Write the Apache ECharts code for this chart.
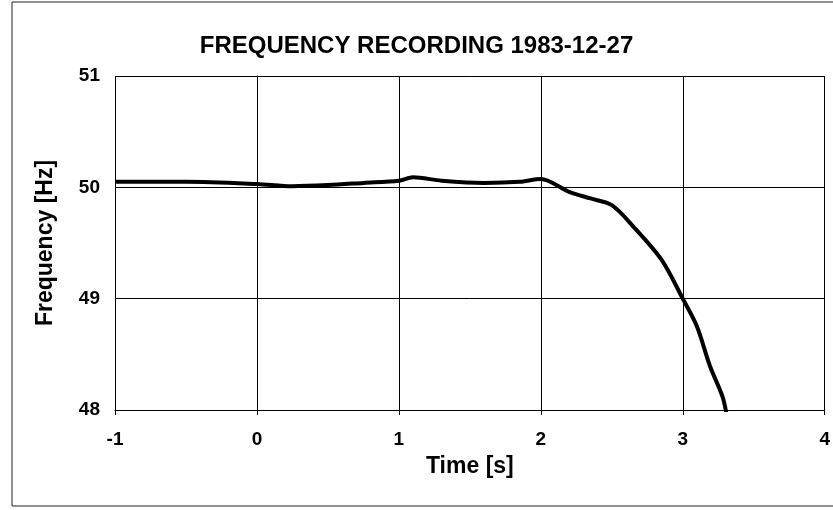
<!DOCTYPE html>
<html>
<head>
<meta charset="utf-8">
<script src="https://cdn.jsdelivr.net/npm/echarts@6/dist/echarts.min.js"></script>
<style>
  html, body { margin: 0; padding: 0; background: #fff; }
  #main { width: 833px; height: 510px; }
</style>
</head>
<body>
<div id="main"></div>
<script>
// recording
var times = [-1, -0.5, 0, 0.25, 0.5, 0.75, 1.0, 1.1, 1.3, 1.6, 1.85, 2.0, 2.2, 2.35, 2.5, 2.65, 2.85, 3.0, 3.1, 3.19, 3.28, 3.31];
var freqs = [50.05, 50.05, 50.03, 50.01, 50.02, 50.04, 50.06, 50.09, 50.06, 50.04, 50.05, 50.075, 49.96, 49.9, 49.84, 49.65, 49.35, 49.0, 48.75, 48.4, 48.12, 47.95];

var xTicks = [-1, 0, 1, 2, 3, 4];
var yTicks = [48, 49, 50, 51];

var font = '"Liberation Sans", Arial, sans-serif';

var pts = [];
for (var i = 0; i < times.length; i++) pts.push([times[i], freqs[i]]);

var myChart = echarts.init(document.getElementById('main'));
var option = {
    backgroundColor: '#fff',
    animation: false,
    title: {
        text: 'FREQUENCY RECORDING 1983-12-27',
        left: 'center',
        top: 29,
        textStyle: { fontFamily: font, fontSize: 24, fontWeight: 'bold', color: '#000' }
    },
    graphic: [{
        type: 'rect',
        shape: { x: 12, y: 2, width: 900, height: 504 },
        style: { fill: 'none', stroke: '#222', lineWidth: 1 },
        silent: true
    }],
    grid: { left: 115, right: 3, top: 76, bottom: 100 },
    xAxis: {
        type: 'value',
        min: xTicks[0],
        max: xTicks[xTicks.length - 1],
        interval: 1,
        name: 'Time [s]',
        nameLocation: 'middle',
        nameGap: 45,
        nameTextStyle: { fontFamily: font, fontSize: 23, fontWeight: 'bold', color: '#000' },
        axisLine: { onZero: false, lineStyle: { color: '#000', width: 1 } },
        axisTick: { show: true, length: 5, lineStyle: { color: '#000' } },
        axisLabel: { margin: 20, fontFamily: font, fontSize: 19, fontWeight: 'bold', color: '#000' },
        splitLine: { show: true, lineStyle: { color: '#000', width: 1 } }
    },
    yAxis: {
        type: 'value',
        min: yTicks[0],
        max: yTicks[yTicks.length - 1],
        interval: 1,
        name: 'Frequency [Hz]',
        nameLocation: 'middle',
        nameGap: 58,
        nameTextStyle: { fontFamily: font, fontSize: 23, fontWeight: 'bold', color: '#000' },
        axisLine: { show: true, lineStyle: { color: '#000', width: 1 } },
        axisTick: { show: true, length: 7, lineStyle: { color: '#000' } },
        axisLabel: { margin: 15, fontFamily: font, fontSize: 19, fontWeight: 'bold', color: '#000' },
        splitLine: { show: true, lineStyle: { color: '#000', width: 1 } }
    },
    series: [{
        type: 'line',
        data: pts,
        showSymbol: false,
        smooth: 0.3,
        clip: true,
        lineStyle: { color: '#000', width: 4 }
    }]
};
myChart.setOption(option);
</script>
</body>
</html>
